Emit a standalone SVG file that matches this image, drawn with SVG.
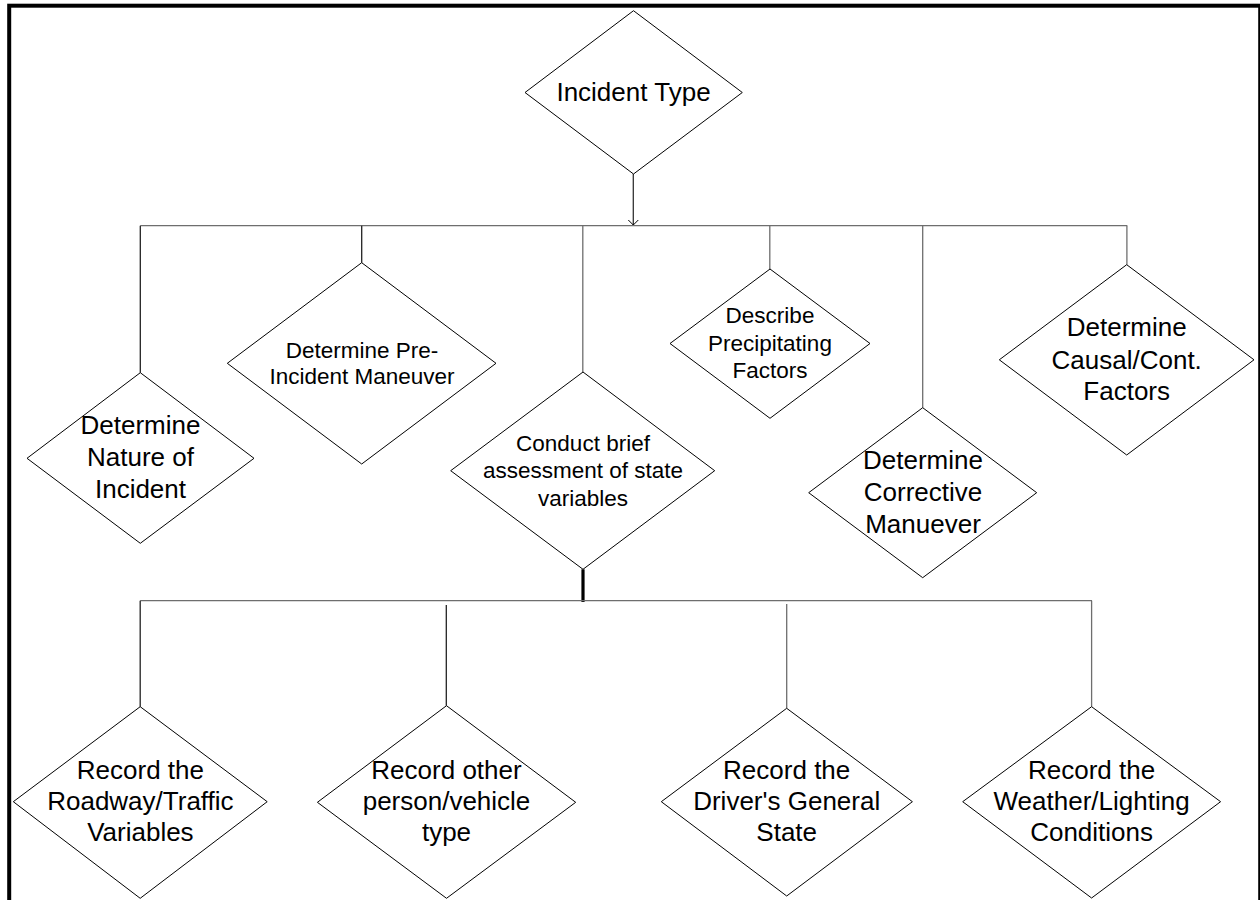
<svg xmlns="http://www.w3.org/2000/svg" width="1260" height="900" viewBox="0 0 1260 900">
<defs>
<marker id="arr" markerWidth="12" markerHeight="12" refX="6" refY="6" orient="auto" markerUnits="userSpaceOnUse">
<path d="M1,1 L6,6 L1,11" fill="none" stroke="#000" stroke-width="1"/>
</marker>
</defs>
<style>
.d{fill:#fff;stroke:#000;stroke-width:1}
.c{fill:none;stroke:#6e6e6e;stroke-width:1.3}
.t{font-family:"Liberation Sans",Arial,sans-serif;fill:#000;text-anchor:middle}
.L{font-size:26px}
.S{font-size:22.5px}
</style>
<rect x="0" y="0" width="1260" height="900" fill="#fff"/>
<rect id="frame" x="9.2" y="5.7" width="1251" height="1000" fill="none" stroke="#000" stroke-width="4"/>
<g id="connectors">
<line class="c" x1="633.3" y1="174" x2="633.3" y2="225" stroke="#000" style="stroke:#333" marker-end="url(#arr)"/>
<line class="c" x1="140.3" y1="225.7" x2="1127.3" y2="225.7"/>
<line class="c" x1="140.3" y1="225.7" x2="140.3" y2="372.7" style="stroke:#222"/>
<line class="c" x1="361.7" y1="225.7" x2="361.7" y2="262.7" style="stroke:#222"/>
<line class="c" x1="582.8" y1="225.7" x2="582.8" y2="372"/>
<line class="c" x1="769.8" y1="225.7" x2="769.8" y2="269"/>
<line class="c" x1="922.7" y1="225.7" x2="922.7" y2="407.7"/>
<line class="c" x1="1126.9" y1="225.7" x2="1126.9" y2="264.7"/>
<line x1="583" y1="569.3" x2="583" y2="602" stroke="#000" stroke-width="3.2"/>
<line class="c" x1="140.2" y1="600.7" x2="1092" y2="600.7"/>
<line class="c" x1="140.2" y1="600.7" x2="140.2" y2="706.7" style="stroke:#222"/>
<line class="c" x1="446.3" y1="605" x2="446.3" y2="705.7" style="stroke:#222"/>
<line class="c" x1="786.7" y1="604" x2="786.7" y2="708.3"/>
<line class="c" x1="1091.6" y1="600.7" x2="1091.6" y2="706.7"/>
</g>
<g id="n0">
<polygon class="d" points="633.5,10.7 742.3,92.5 633.5,174 525,92.5"/>
<text class="t L" x="633.5" y="101">Incident Type</text>
</g>
<g id="n1">
<polygon class="d" points="140.3,372.7 254,458.3 140.3,543.3 27,458.3"/>
<text class="t L" x="140.5" y="434">Determine</text>
<text class="t L" x="140.5" y="466">Nature of</text>
<text class="t L" x="140.5" y="498">Incident</text>
</g>
<g id="n2">
<polygon class="d" points="361.7,262.7 496,363.3 361.7,464 227.3,363.3"/>
<text class="t S" x="362" y="357.5">Determine Pre-</text>
<text class="t S" x="362" y="383.5">Incident Maneuver</text>
</g>
<g id="n3">
<polygon class="d" points="583,372 714.7,470.7 583,569.3 450.7,470.7"/>
<text class="t S" x="583" y="450.5">Conduct brief</text>
<text class="t S" x="583" y="478">assessment of state</text>
<text class="t S" x="583" y="505.5">variables</text>
</g>
<g id="n4">
<polygon class="d" points="770,269 870,343.5 770,418.3 670,343.5"/>
<text class="t S" x="770" y="323">Describe</text>
<text class="t S" x="770" y="350.5">Precipitating</text>
<text class="t S" x="770" y="378">Factors</text>
</g>
<g id="n5">
<polygon class="d" points="922.7,407.7 1036.7,492.7 922.7,577.7 808.7,492.7"/>
<text class="t L" x="923" y="468.5">Determine</text>
<text class="t L" x="923" y="500.5">Corrective</text>
<text class="t L" x="923" y="532.5">Manuever</text>
</g>
<g id="n6">
<polygon class="d" points="1126.7,264.7 1254,359.8 1126.7,455 999.3,359.8"/>
<text class="t L" x="1126.7" y="336">Determine</text>
<text class="t L" x="1126.7" y="368.5">Causal/Cont.</text>
<text class="t L" x="1126.7" y="400">Factors</text>
</g>
<g id="n7">
<polygon class="d" points="140.2,706.7 267.2,801.7 140.2,898.3 13.3,801.7"/>
<text class="t L" x="140.4" y="778.5">Record the</text>
<text class="t L" x="140.4" y="810">Roadway/Traffic</text>
<text class="t L" x="140.4" y="841">Variables</text>
</g>
<g id="n8">
<polygon class="d" points="446.5,705.7 575.7,802.3 446.5,898.3 317.4,802.3"/>
<text class="t L" x="446.5" y="778.5">Record other</text>
<text class="t L" x="446.5" y="810">person/vehicle</text>
<text class="t L" x="446.5" y="841">type</text>
</g>
<g id="n9">
<polygon class="d" points="786.7,708.3 912.4,801.7 786.7,896 661.3,801.7"/>
<text class="t L" x="786.7" y="778.5">Record the</text>
<text class="t L" x="786.7" y="810">Driver's General</text>
<text class="t L" x="786.7" y="841">State</text>
</g>
<g id="n10">
<polygon class="d" points="1091.6,706.7 1220.6,801.7 1091.6,898 962.7,801.7"/>
<text class="t L" x="1091.6" y="778.5">Record the</text>
<text class="t L" x="1091.6" y="810">Weather/Lighting</text>
<text class="t L" x="1091.6" y="841">Conditions</text>
</g>
</svg>
